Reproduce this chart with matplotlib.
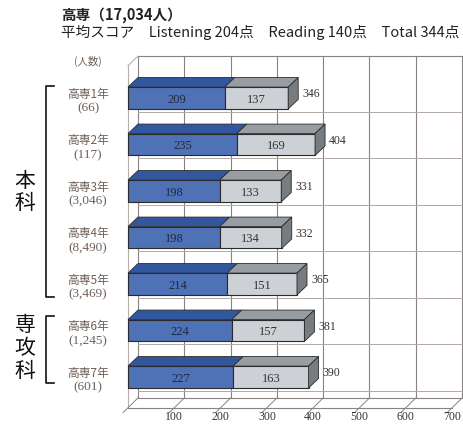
import matplotlib
matplotlib.use("Agg")
import matplotlib.pyplot as plt
from matplotlib.patches import Polygon, Rectangle

plt.rcParams['font.family'] = ['Noto Sans CJK JP', 'DejaVu Sans']

# 学年ごとの平均スコア
grades = ['高専1年', '高専2年', '高専3年', '高専4年', '高専5年', '高専6年', '高専7年']
counts = ['(66)', '(117)', '(3,046)', '(8,490)', '(3,469)', '(1,245)', '(601)']
listening = [209, 235, 198, 198, 214, 224, 227]
reading = [137, 169, 133, 134, 151, 157, 163]
totals = [346, 404, 331, 332, 365, 381, 390]
xticks = [100, 200, 300, 400, 500, 600, 700]

W, H = 464, 427
fig = plt.figure(figsize=(W / 100, H / 100), dpi=100)
ax = fig.add_axes([0, 0, 1, 1])

# 横方向: 1点 = 0.463px, 縦方向: 1行 = 46.5px
sx, x0px = 0.463, 128
sy, y0px = 46.5, 99
ax.set_xlim(-x0px / sx, (W - x0px) / sx)
ax.set_ylim((H - y0px) / sy, -y0px / sy)
ax.axis('off')

dx, dy = 10 / sx, 9.5 / sy      # 奥行き
hh = 0.235                      # 棒の半分の高さ
top_y = -0.9                    # 背面の上端
floor_back = 6.45
floor_front = floor_back + dy + 0.01
xmax = 700

grid_c = '#8a8280'
lw = 0.8

# 背面の縦グリッド
for v in [0] + xticks:
    ax.plot([v + dx, v + dx], [top_y, floor_back], color=grid_c, lw=lw)
ax.plot([dx, xmax + dx], [top_y, top_y], color=grid_c, lw=lw)
ax.plot([dx, xmax + dx], [floor_back, floor_back], color=grid_c, lw=lw)
# 行の区切り線
for i in range(len(grades)):
    ax.plot([dx, xmax + dx], [i + 0.3, i + 0.3], color='#b0a8a4', lw=0.7)
# 左の壁
ax.plot([0, 0], [top_y + dy, floor_front], color='#b8b0ac', lw=lw)
ax.plot([0, dx], [top_y + dy, top_y], color='#b8b0ac', lw=lw)
# 床と目盛り
ax.plot([0, xmax], [floor_front, floor_front], color=grid_c, lw=lw)
for v in [0] + xticks:
    ax.plot([v + dx, v - 0.5 * dx], [floor_back, floor_front + 0.5 * dy],
            color=grid_c, lw=0.7)
for v in xticks:
    ax.text(v, 6.84, str(v), ha='center', va='center', fontsize=8.5,
            family='Liberation Serif', color='#333333')

blue_front, blue_top = '#4f71b6', '#33579f'
gray_front, gray_top, gray_side = '#cdd1d5', '#979da1', '#767c7f'
edge = '#2a2a2a'


def box(x_start, x_end, y, front, top, side=None):
    ax.add_patch(Rectangle((x_start, y - hh), x_end - x_start, 2 * hh,
                           facecolor=front, edgecolor=edge, lw=0.8, zorder=3))
    ax.add_patch(Polygon([(x_start, y - hh), (x_end, y - hh),
                          (x_end + dx, y - hh - dy), (x_start + dx, y - hh - dy)],
                         facecolor=top, edgecolor=edge, lw=0.6, zorder=3))
    if side:
        ax.add_patch(Polygon([(x_end, y - hh), (x_end + dx, y - hh - dy),
                              (x_end + dx, y + hh - dy), (x_end, y + hh)],
                             facecolor=side, edgecolor=edge, lw=0.6, zorder=3))


for i, (l, r, t) in enumerate(zip(listening, reading, totals)):
    box(0, l, i, blue_front, blue_top)
    box(l, l + r, i, gray_front, gray_top, gray_side)
    ax.text(l / 2, i + 0.02, str(l), ha='center', va='center', fontsize=9,
            family='Liberation Serif', color='#1e2a40', zorder=4)
    ax.text(l + r / 2, i + 0.02, str(r), ha='center', va='center', fontsize=9,
            family='Liberation Serif', color='#333333', zorder=4)
    ax.text(t + dx + 9, i - 0.1, str(t), ha='left', va='center', fontsize=8.5,
            family='Liberation Serif', color='#333333')
    ax.text(-86, i - 0.1, grades[i], ha='center', va='center', fontsize=8.5,
            color='#6e6058')
    ax.text(-86, i + 0.2, counts[i], ha='center', va='center', fontsize=9.5,
            family='Liberation Serif', color='#6e6058')

ax.text(-86, -0.8, '(人数)', ha='center', va='center', fontsize=7.5, color='#6e6058')


def px(x, y):
    return x / W, 1 - y / H


# 本科・専攻科の括弧
for y1, y2, label, yc in [(87, 298, '本\n科', 192), (317, 384, '専\n攻\n科', 348)]:
    fig.add_artist(plt.Line2D([54 / W, 46 / W, 46 / W, 54 / W],
                              [1 - y1 / H, 1 - y1 / H, 1 - y2 / H, 1 - y2 / H],
                              color='#111111', lw=1.2))
    fig.text(*px(25, yc), label, ha='center', va='center', fontsize=15,
             linespacing=1.05, color='#111111')

fig.text(*px(61, 15), '高専（17,034人）', ha='left', va='center', fontsize=10.5,
         fontweight='bold', color='#222222')
fig.text(*px(61, 32), '平均スコア　Listening 204点　Reading 140点　Total 344点',
         ha='left', va='center', fontsize=10.5, color='#222222')

fig.savefig('out.png', dpi=100)
